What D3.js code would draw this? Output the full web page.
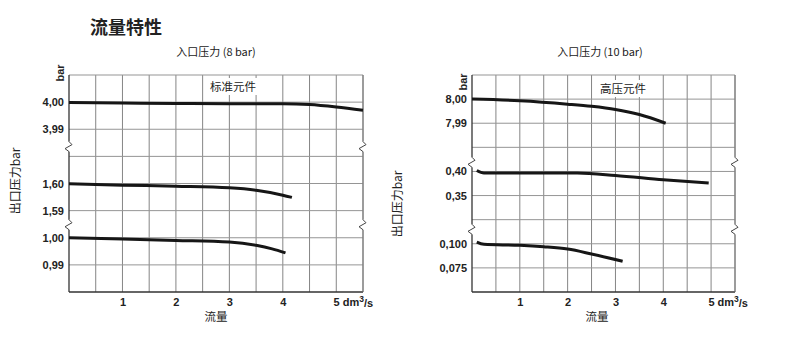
<!DOCTYPE html>
<html>
<head>
<meta charset="utf-8">
<script src="https://cdn.jsdelivr.net/npm/d3@7"></script>
<style>
  html, body { margin: 0; padding: 0; background: #fff; }
  svg { display: block; }
  .num { font-family: "Liberation Sans", Arial, sans-serif; font-weight: bold; font-size: 11px; fill: #222; }
  .cjk { font-family: "Noto Sans CJK SC", sans-serif; fill: #222; }
</style>
</head>
<body>
<svg id="chart" width="800" height="342"></svg>
<script>
// Flow axis (dm³/s)
const flowTicks = [1, 2, 3, 4, 5];
const flowDomain = [0, 5.5];

// ---- Panel 1: inlet pressure 8 bar (standard element) ----
const stdSections = [
  { hi: 4.00, lo: 3.99 },
  { hi: 1.60, lo: 1.59 },
  { hi: 1.00, lo: 0.99 }
];
const stdFlow4 = [0, 1, 2, 3, 4, 4.5, 5, 5.5];
const stdOut4 = [3.9999, 3.9997, 3.9995, 3.9994, 3.9994, 3.9991, 3.9982, 3.9970];
const stdFlow16 = [0, 1, 2, 3, 3.5, 4, 4.17];
const stdOut16 = [1.5999, 1.5994, 1.5990, 1.5984, 1.5975, 1.5957, 1.5949];
const stdFlow10 = [0, 1, 2, 3, 3.5, 3.8, 4.05];
const stdOut10 = [1.0000, 0.9995, 0.9990, 0.9984, 0.9972, 0.9959, 0.9944];

// ---- Panel 2: inlet pressure 10 bar (high-pressure element) ----
const hpSections = [
  { hi: 8.00, lo: 7.99 },
  { hi: 0.40, lo: 0.35 },
  { hi: 0.100, lo: 0.075 }
];
const hpFlow8 = [0, 1, 2, 2.5, 3, 3.5, 4.05];
const hpOut8 = [8.0000, 7.9993, 7.9979, 7.9970, 7.9957, 7.9936, 7.9900];
const hpFlow04 = [0.1, 0.25, 1, 2.2, 3, 4, 4.95];
const hpOut04 = [0.402, 0.3967, 0.3967, 0.3967, 0.3917, 0.3827, 0.3758];
const hpFlow01 = [0.1, 0.25, 1, 1.5, 2, 2.5, 3.15];
const hpOut01 = [0.1017, 0.0994, 0.0984, 0.0969, 0.0945, 0.0894, 0.0819];

const svg = d3.select("#chart");
const fmtLocale = d3.formatLocale({ decimal: ",", thousands: ".", grouping: [3], currency: ["", ""] });

svg.append("text").attr("class", "cjk")
  .attr("x", 90).attr("y", 34)
  .style("font-size", "18px").style("font-weight", "bold")
  .text("流量特性");

function drawPanel(cfg) {
  const g = svg.append("g");
  const x = d3.scaleLinear().domain(flowDomain).range([cfg.left, cfg.right]);
  const row = d3.scaleLinear().domain([0, cfg.rows]).range([cfg.top, cfg.bottom]);

  // grid
  const grid = g.append("g");
  grid.selectAll("line.v").data(d3.range(0.5, 5.51, 0.5)).join("line")
    .attr("x1", d => x(d)).attr("x2", d => x(d))
    .attr("y1", cfg.top).attr("y2", cfg.bottom)
    .attr("stroke", "#858585").attr("stroke-width", 1);
  grid.selectAll("line.h").data(d3.range(0, cfg.rows)).join("line")
    .attr("x1", cfg.left).attr("x2", cfg.right)
    .attr("y1", d => row(d)).attr("y2", d => row(d))
    .attr("stroke", "#959595").attr("stroke-width", 1);

  // section scales and tick labels
  const scales = cfg.sections.map((s, i) => {
    const r = cfg.sectionRows[i];
    const y = d3.scaleLinear().domain([s.hi, s.lo]).range([row(r), row(r + 1)]);
    const ax = g.append("g").attr("transform", `translate(${cfg.left},0)`)
      .call(d3.axisLeft(y).tickValues([s.hi, s.lo]).tickSize(0).tickPadding(5)
        .tickFormat(fmtLocale.format(cfg.fmt[i])));
    ax.select(".domain").remove();
    ax.selectAll("text").attr("class", "num").attr("fill", null);
    return y;
  });

  // axes: left and bottom dark, right edge light
  g.append("line").attr("x1", cfg.left).attr("x2", cfg.left)
    .attr("y1", cfg.top).attr("y2", cfg.bottom).attr("stroke", "#333").attr("stroke-width", 1.3);
  g.append("line").attr("x1", cfg.left).attr("x2", cfg.right)
    .attr("y1", cfg.bottom).attr("y2", cfg.bottom).attr("stroke", "#333").attr("stroke-width", 1.3);
  g.append("line").attr("x1", cfg.right).attr("x2", cfg.right)
    .attr("y1", cfg.top).attr("y2", cfg.bottom).attr("stroke", "#777").attr("stroke-width", 1);

  // axis break marks on both vertical edges
  cfg.breakRows.forEach(br => {
    const yb = row(br);
    [cfg.left, cfg.right].forEach(xe => {
      g.append("rect").attr("x", xe - 2).attr("y", yb - 5).attr("width", 4).attr("height", 10).attr("fill", "#fff");
      g.append("path")
        .attr("d", d3.line()([[xe, yb - 5], [xe + 3, yb - 2], [xe - 4, yb + 2], [xe, yb + 5]]))
        .attr("fill", "none").attr("stroke", "#444").attr("stroke-width", 1);
    });
  });

  // x axis labels
  const xa = g.append("g").attr("transform", `translate(0,${cfg.bottom})`)
    .call(d3.axisBottom(x).tickValues(flowTicks).tickSize(0).tickPadding(6).tickFormat(d3.format("d")));
  xa.select(".domain").remove();
  xa.selectAll("text").attr("class", "num").attr("fill", null);
  xa.selectAll(".tick").filter(d => d === 5).select("text")
    .attr("text-anchor", "start").attr("x", -3.2)
    .call(t => {
      t.append("tspan").text(" dm");
      t.append("tspan").attr("dy", "-0.45em").style("font-size", "8.5px").text("3");
      t.append("tspan").attr("dy", "0.45em").text("/s");
    });

  // element label with white background
  const lbl = g.append("g").attr("transform", `translate(${cfg.labelX},${cfg.labelY})`);
  lbl.append("rect").attr("x", -26).attr("y", -9).attr("width", 52).attr("height", 17).attr("fill", "#fff");
  lbl.append("text").attr("class", "cjk").attr("text-anchor", "middle").attr("dy", "0.35em")
    .style("font-size", "11.5px").text(cfg.label);

  // curves
  const line = d3.line().curve(d3.curveMonotoneX);
  cfg.curves.forEach(c => {
    const y = scales[c.section];
    g.append("path")
      .attr("d", line(c.flow.map((f, i) => [x(f), y(c.out[i])])))
      .attr("fill", "none").attr("stroke", "#161616").attr("stroke-width", 3).attr("stroke-linecap", "butt");
  });

  // titles
  g.append("text").attr("class", "cjk").attr("text-anchor", "middle")
    .attr("x", cfg.titleX).attr("y", 56).style("font-size", "11px").text(cfg.title);
  g.append("text").attr("class", "cjk").attr("text-anchor", "middle")
    .attr("x", cfg.xTitleX).attr("y", 321).style("font-size", "11.5px").text("流量");
  g.append("text").attr("class", "num").attr("text-anchor", "middle")
    .attr("transform", `translate(${cfg.barX},${cfg.barY}) rotate(-90)`).text("bar");
  g.append("text").attr("class", "cjk").attr("text-anchor", "middle")
    .attr("transform", `translate(${cfg.yTitleX},${cfg.yTitleY}) rotate(-90)`)
    .style("font-size", "12px").text("出口压力bar");
}

drawPanel({
  left: 69, right: 363, top: 75, bottom: 292, rows: 8,
  sections: stdSections, sectionRows: [1, 4, 6], fmt: [".2f", ".2f", ".2f"],
  breakRows: [2.64, 5.52],
  curves: [
    { section: 0, flow: stdFlow4, out: stdOut4 },
    { section: 1, flow: stdFlow16, out: stdOut16 },
    { section: 2, flow: stdFlow10, out: stdOut10 }
  ],
  label: "标准元件", labelX: 233, labelY: 87,
  title: "入口压力 (8 bar)", titleX: 216, xTitleX: 216,
  barX: 64, barY: 73, yTitleX: 20, yTitleY: 181
});

drawPanel({
  left: 472, right: 735, top: 75, bottom: 292, rows: 9,
  sections: hpSections, sectionRows: [1, 4, 7], fmt: [".2f", ".2f", ".3f"],
  breakRows: [3.62, 6.4],
  curves: [
    { section: 0, flow: hpFlow8, out: hpOut8 },
    { section: 1, flow: hpFlow04, out: hpOut04 },
    { section: 2, flow: hpFlow01, out: hpOut01 }
  ],
  label: "高压元件", labelX: 623, labelY: 89,
  title: "入口压力 (10 bar)", titleX: 600, xTitleX: 597,
  barX: 467, barY: 82, yTitleX: 402, yTitleY: 204
});
</script>
</body>
</html>
